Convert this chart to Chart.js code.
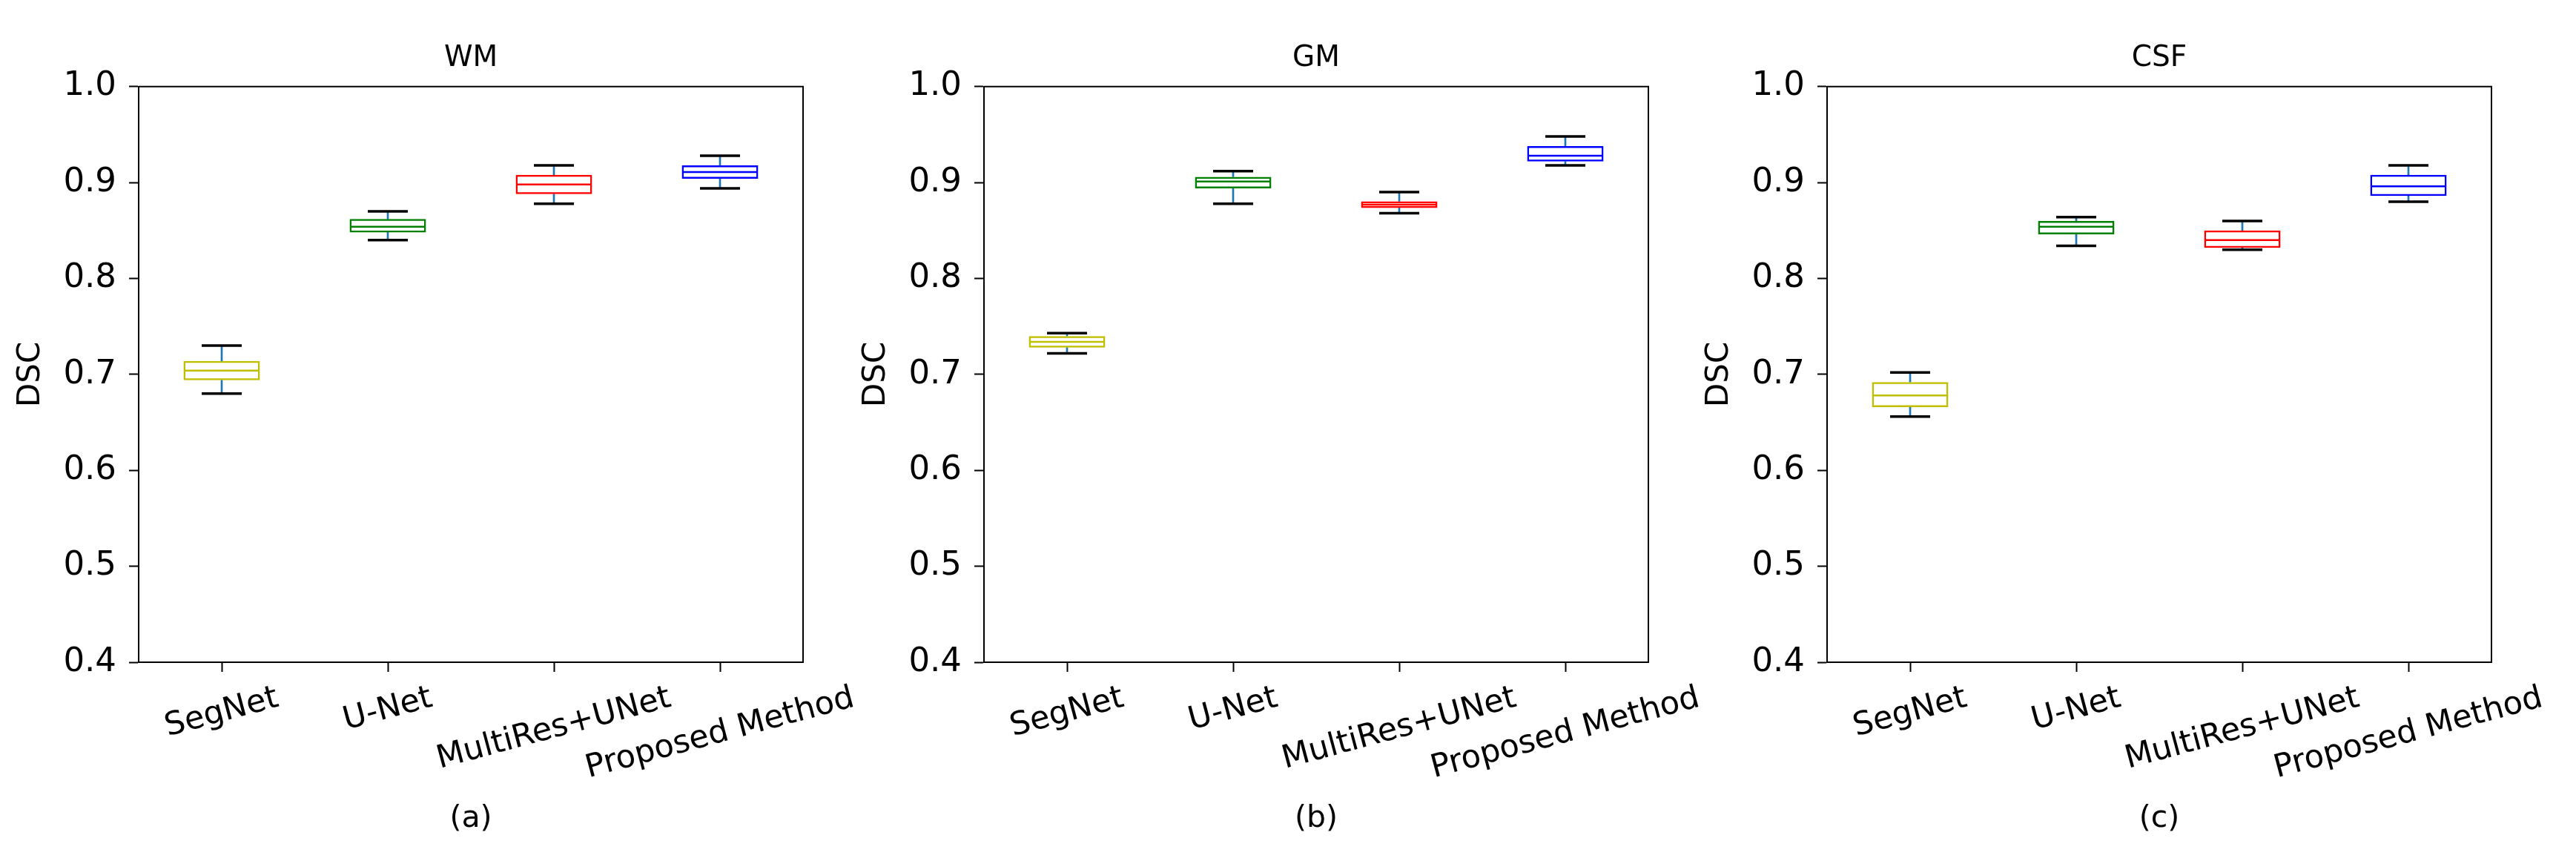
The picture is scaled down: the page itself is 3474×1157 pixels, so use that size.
<!DOCTYPE html>
<html>
<head>
<meta charset="utf-8">
<script src="https://cdn.jsdelivr.net/npm/chart.js@4.4.1/dist/chart.umd.min.js"></script>
<style>
  body { margin: 0; background: #fff; width: 3474px; height: 1157px; overflow: hidden; position: relative; }
  canvas { position: absolute; top: 0; }
</style>
</head>
<body>
<canvas id="wm" width="1200" height="1157" style="left:0px"></canvas>
<canvas id="gm" width="1200" height="1157" style="left:1140px"></canvas>
<canvas id="csf" width="1200" height="1157" style="left:2277px"></canvas>
<script>
// categories et couleurs des boîtes
const categories = ["SegNet", "U-Net", "MultiRes+UNet", "Proposed Method"];
const boxColors = ["#bfbf00", "#008000", "#ff0000", "#0000ff"];

// WM : moustache basse, Q1, médiane, Q3, moustache haute
const wmLow = [0.680, 0.840, 0.878, 0.894];
const wmQ1 = [0.694, 0.848, 0.888, 0.904];
const wmMed = [0.704, 0.854, 0.898, 0.911];
const wmQ3 = [0.714, 0.862, 0.908, 0.918];
const wmHigh = [0.730, 0.870, 0.918, 0.928];

// GM
const gmLow = [0.722, 0.878, 0.868, 0.918];
const gmQ1 = [0.728, 0.894, 0.8735, 0.922];
const gmMed = [0.734, 0.901, 0.877, 0.928];
const gmQ3 = [0.740, 0.906, 0.8805, 0.938];
const gmHigh = [0.743, 0.912, 0.890, 0.948];

// CSF
const csfLow = [0.656, 0.834, 0.830, 0.880];
const csfQ1 = [0.666, 0.846, 0.832, 0.886];
const csfMed = [0.678, 0.854, 0.840, 0.896];
const csfQ3 = [0.692, 0.860, 0.850, 0.908];
const csfHigh = [0.702, 0.864, 0.860, 0.918];

// axe des y
const yMin = 0.4;
const yMax = 1.0;
const yStep = 0.1;

Chart.defaults.font.family = "'DejaVu Sans', sans-serif";
Chart.defaults.color = "#000";

// étiquettes des catégories tournées de 15°, centrées sous chaque graduation
const rotatedLabels = {
  id: "rotatedLabels",
  afterDraw(chart) {
    const { ctx, chartArea } = chart;
    const xScale = chart.scales.x;
    const angle = 15 * Math.PI / 180;
    const size = 43;
    ctx.save();
    ctx.font = size + "px 'DejaVu Sans'";
    ctx.fillStyle = "#000";
    ctx.textAlign = "center";
    ctx.textBaseline = "middle";
    chart.data.labels.forEach((label, i) => {
      const x = xScale.getPixelForTick(i);
      const w = ctx.measureText(label).width;
      const h = size * 1.164;
      const boxH = w * Math.sin(angle) + h * Math.cos(angle);
      const cy = chartArea.bottom + 24 + boxH / 2;
      ctx.save();
      ctx.translate(x, cy);
      ctx.rotate(-angle);
      ctx.fillText(label, 0, 0);
      ctx.restore();
    });
    ctx.restore();
  }
};

// cadre haut et droit, comme matplotlib
const frame = {
  id: "frame",
  afterDraw(chart) {
    const { ctx, chartArea } = chart;
    ctx.save();
    ctx.strokeStyle = "#000";
    ctx.lineWidth = 2;
    ctx.beginPath();
    ctx.moveTo(chartArea.left, chartArea.top);
    ctx.lineTo(chartArea.right, chartArea.top);
    ctx.lineTo(chartArea.right, chartArea.bottom);
    ctx.stroke();
    ctx.restore();
  }
};

function drawBoxPanel(canvasId, title, caption, low, q1, med, q3, high) {
  const whiskerColor = "#1f77b4";
  const datasets = [
    {
      type: "line", data: high, showLine: false,
      pointStyle: "line", pointRadius: 27, pointHoverRadius: 27,
      pointBorderColor: "#000", pointBorderWidth: 3.5, borderColor: "#000"
    },
    {
      type: "line", data: low, showLine: false,
      pointStyle: "line", pointRadius: 27, pointHoverRadius: 27,
      pointBorderColor: "#000", pointBorderWidth: 3.5, borderColor: "#000"
    },
    {
      type: "line", data: med, showLine: false,
      pointStyle: "line", pointRadius: 51, pointHoverRadius: 51,
      pointBorderColor: boxColors, pointBorderWidth: 2.5, borderColor: boxColors
    },
    {
      data: categories.map((c, i) => [q1[i], q3[i]]),
      backgroundColor: "rgba(0,0,0,0)",
      borderColor: boxColors,
      borderWidth: 2.5,
      borderSkipped: false,
      grouped: false,
      barPercentage: 0.46,
      categoryPercentage: 1.0
    },
    {
      data: categories.map((c, i) => [q3[i], high[i]]),
      backgroundColor: whiskerColor,
      borderWidth: 0,
      grouped: false,
      barThickness: 2
    },
    {
      data: categories.map((c, i) => [low[i], q1[i]]),
      backgroundColor: whiskerColor,
      borderWidth: 0,
      grouped: false,
      barThickness: 2
    }
  ];

  return new Chart(document.getElementById(canvasId), {
    type: "bar",
    data: { labels: categories, datasets: datasets },
    options: {
      responsive: false,
      animation: false,
      events: [],
      devicePixelRatio: 1,
      layout: { padding: { top: 55, right: 117, bottom: 0, left: 0 } },
      plugins: {
        legend: { display: false },
        tooltip: { enabled: false },
        title: {
          display: true,
          text: title,
          fullSize: false,
          color: "#000",
          font: { size: 39, weight: "normal" },
          padding: { top: 0, bottom: 15 }
        }
      },
      scales: {
        x: {
          offset: true,
          grid: {
            display: true, offset: false, drawOnChartArea: false,
            drawTicks: true, tickLength: 13, tickWidth: 2, tickColor: "#000"
          },
          border: { display: true, color: "#000", width: 2 },
          ticks: { callback: () => "", maxRotation: 0, minRotation: 0 },
          title: {
            display: true, text: caption, color: "#000",
            font: { size: 41 }, padding: { top: 0, bottom: 28 }
          },
          afterFit(scale) { scale.height = 264; }
        },
        y: {
          min: yMin,
          max: yMax,
          grid: {
            display: true, drawOnChartArea: false,
            drawTicks: true, tickLength: 13, tickWidth: 2, tickColor: "#000"
          },
          border: { display: true, color: "#000", width: 2 },
          ticks: {
            stepSize: yStep,
            padding: 17,
            color: "#000",
            font: { size: 45 },
            callback: (v) => v.toFixed(1)
          },
          title: {
            display: true, text: "DSC", color: "#000",
            font: { size: 42 }, padding: { top: 17, bottom: 0 }
          },
          afterFit(scale) { scale.width = 187; }
        }
      }
    },
    plugins: [rotatedLabels, frame]
  });
}

drawBoxPanel("wm", "WM", "(a)", wmLow, wmQ1, wmMed, wmQ3, wmHigh);
drawBoxPanel("gm", "GM", "(b)", gmLow, gmQ1, gmMed, gmQ3, gmHigh);
drawBoxPanel("csf", "CSF", "(c)", csfLow, csfQ1, csfMed, csfQ3, csfHigh);
</script>
</body>
</html>
